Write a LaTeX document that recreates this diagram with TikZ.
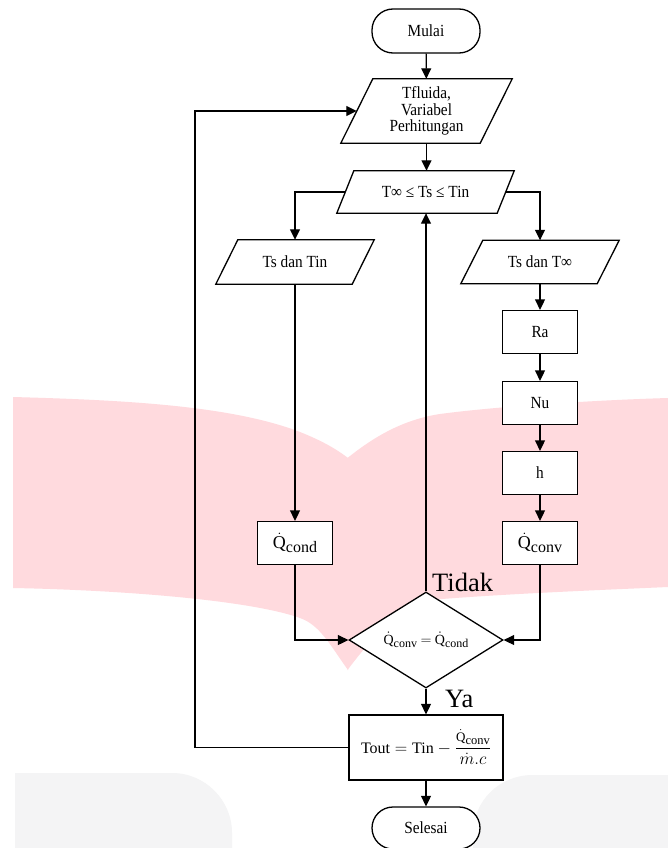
\documentclass[tikz,border=0pt]{standalone}
\usepackage{amsmath}
\usepackage{fontspec}
\setmainfont{Liberation Serif}[FakeStretch=0.9]
\newfontfamily\mfont{Liberation Serif}
\newfontfamily\lblfont{Liberation Serif}
\usetikzlibrary{arrows.meta,shapes.geometric}
\definecolor{pinkwm}{RGB}{255,218,222}
\definecolor{graywm}{RGB}{244,244,245}
\pgfdeclarelayer{wm}
\pgfdeclarelayer{bg}
\pgfsetlayers{wm,bg,main}
% dotted Q with a sizeable subscript: #1 Q size, #2 subscript size, #3 subscript
\newcommand\Qd[3]{{\mfont\fontsize{#1}{#1}\selectfont$\dot{\text{Q}}$\raisebox{-0.22em}{\fontsize{#2}{#2}\selectfont #3}}}
\newcommand\parashape[2]{%
  \begin{pgfonlayer}{bg}
  \draw[line width=1.3pt, fill=white]
    ([xshift=#2/2]#1.north west) -- ([xshift=#2/2]#1.north east) --
    ([xshift=-#2/2]#1.south east) -- ([xshift=-#2/2]#1.south west) -- cycle;
  \end{pgfonlayer}}
\tikzset{
  basefont/.style={font=\fontsize{17}{16.5}\selectfont},
  term/.style={draw, fill=white, line width=1.3pt, rounded corners=21pt,
    minimum width=108pt, minimum height=44pt, inner sep=0pt, basefont},
  box/.style={draw, fill=white, line width=1.3pt, minimum width=75pt,
    minimum height=43pt, inner sep=0pt, basefont},
  para/.style 2 args={draw=none, minimum width=#1, minimum height=#2,
    inner sep=0pt, align=center, basefont},
  dec/.style={draw, fill=white, line width=1.3pt, diamond, shape aspect=1.6,
    minimum width=154pt, minimum height=96pt, inner sep=0pt},
  arr/.style={-{Triangle[length=10.5pt,width=10pt]}, line width=1.3pt},
  lbl/.style={font=\lblfont\fontsize{26.5}{26.5}\selectfont, inner sep=0pt}
}
\begin{document}
\begin{tikzpicture}[x=1pt, y=-1pt]
\useasboundingbox (0,0) rectangle (668,848);
\begin{pgfonlayer}{wm}
\fill[white] (0,0) rectangle (668,848);
\fill[pinkwm] (13,397) .. controls (120,400) and (230,405) .. (300,432)
  .. controls (320,440) and (335,448) .. (348,458) -- (348,670)
  .. controls (330,645) and (320,625) .. (300,618)
  .. controls (250,600) and (120,590) .. (13,588) -- cycle;
\fill[pinkwm] (347.5,458) .. controls (370,440) and (400,420) .. (440,414)
  .. controls (500,406) and (600,400) .. (668,398) -- (668,587)
  .. controls (600,590) and (500,594) .. (430,600)
  .. controls (400,605) and (370,640) .. (347.5,670) -- cycle;
\fill[graywm] (15,848) -- (15,773) -- (172,773)
  .. controls (205,773) and (232,800) .. (232,833) -- (232,848) -- cycle;
\fill[graywm] (473,848) -- (473,835)
  .. controls (473,800) and (500,775) .. (533,775) -- (668,775) -- (668,848) -- cycle;
\end{pgfonlayer}

% nodes
\node[term] (mulai) at (426,31) {Mulai};
\node[para={139pt}{64pt}] (tfl) at (426.5,111) {Tfluida,\\Variabel\\Perhitungan};
\parashape{tfl}{32pt}
\node[para={160pt}{42pt}] (too) at (425.5,192) {T∞ ≤ Ts ≤ Tin};
\parashape{too}{17pt}
\node[para={136pt}{44pt}] (tsin) at (295,262) {Ts dan Tin};
\parashape{tsin}{22pt}
\node[para={136pt}{43pt}] (tsinf) at (540,262) {Ts dan T∞};
\parashape{tsinf}{22pt}
\node[box] (ra) at (540,332) {Ra};
\node[box] (nu) at (540,403) {Nu};
\node[box] (hh) at (540,473) {h};
\node[box] (qconv) at (540,543) {\Qd{18}{16}{conv}};
\node[box] (qcond) at (295,543) {\Qd{18}{16}{cond}};
\node[dec] (dia) at (426,640) {\Qd{14}{12}{conv}\hspace{3.5pt}{\mfont\fontsize{14}{14}\selectfont$=$}\hspace{3.5pt}\Qd{14}{12}{cond}};
\node[box, minimum width=154pt, minimum height=65pt] (tout) at (426,747.5)
  {\mfont\fontsize{16}{16}\selectfont $\text{Tout} = \text{Tin} - \dfrac{\mbox{\Qd{13}{12.5}{conv}}}{\dot{m}.c}$};
\node[term, minimum height=42pt] (selesai) at (426,828) {Selesai};
\node[lbl, anchor=base west] (tidak) at (432,591) {Tidak};
\node[lbl, anchor=base west] (ya) at (445,707) {Ya};
\coordinate (fb) at (195,113);

% connectors
\draw[arr] (mulai) -- (tfl);
\draw[arr] (tfl.south) -- (tfl.south |- too.north);
\draw[arr] (too.west) -| (tsin.north);
\draw[arr] (too.east) -| (tsinf.north);
\draw[arr] (tsinf) -- (ra);
\draw[arr] (ra) -- (nu);
\draw[arr] (nu) -- (hh);
\draw[arr] (hh) -- (qconv);
\draw[arr] (tsin) -- (qcond);
\draw[arr] (qcond.south) |- (dia.west);
\draw[arr] (qconv.south) |- (dia.east);
\draw[arr] (dia.north) -- (dia.north |- too.south);
\draw[arr] (dia) -- (tout);
\draw[arr] (tout.west) -- (tout.west -| fb) |- (tfl.west);
\draw[arr] (tout) -- (selesai);
\end{tikzpicture}
\end{document}
